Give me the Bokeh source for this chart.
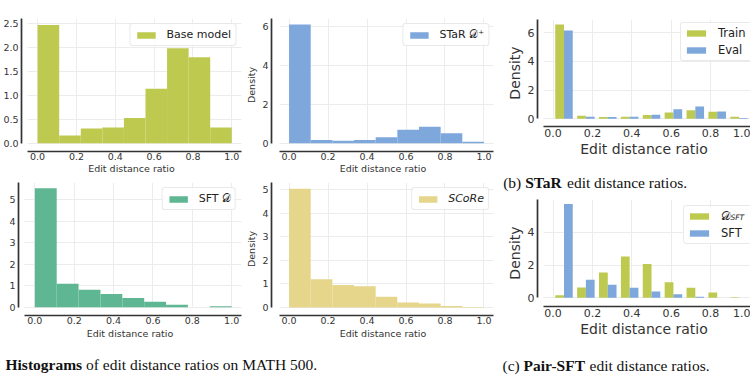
import numpy as np
from bokeh.plotting import figure
from bokeh.layouts import row, column
from bokeh.models import (FixedTicker, NumeralTickFormatter, Range1d, Legend, Grid, Plot,
                          BoxAnnotation)
from bokeh.core.properties import value
from bokeh.embed import file_html
from bokeh.resources import INLINE

# ---------------- data ----------------
n_bins = 9
x_ticks = [0.0, 0.2, 0.4, 0.6, 0.8, 1.0]
x_label = "Edit distance ratio"
y_label = "Density"

base_model = [2.48, 0.16, 0.31, 0.33, 0.53, 1.14, 1.99, 1.80, 0.33]
star_dplus = [6.10, 0.17, 0.12, 0.17, 0.31, 0.69, 0.84, 0.51, 0.07]
sft_d = [5.54, 1.09, 0.81, 0.62, 0.43, 0.25, 0.11, 0.00, 0.04]
score = [5.03, 1.20, 0.95, 0.90, 0.46, 0.21, 0.17, 0.06, 0.02]
star_train = [6.58, 0.21, 0.12, 0.14, 0.26, 0.44, 0.60, 0.49, 0.14]
star_eval = [6.16, 0.14, 0.12, 0.14, 0.28, 0.67, 0.86, 0.51, 0.05]
pair_dsft = [0.16, 0.63, 1.54, 2.52, 2.07, 0.95, 0.61, 0.32, 0.04]
pair_sft = [5.73, 1.10, 0.79, 0.61, 0.39, 0.22, 0.06, 0.00, 0.00]

label_base = "Base model"
label_star = "STaR \U0001D49F\u207A"
label_sft = "SFT \U0001D49F"
label_score = "SCoRe"
label_train = "Train"
label_eval = "Eval"
label_dsft = "\U0001D49F"
label_dsft_sub = "SFT"
label_pair_sft = "SFT"

caption_a = ["Histograms", "of edit distance ratios on MATH 500."]
caption_b = ["(b)", "STaR", "edit distance ratios."]
caption_c = ["(c)", "Pair-SFT", "edit distance ratios."]

# ---------------- style ----------------
FONT = "DejaVu Sans"
SERIF = "Liberation Serif"
OLIVE = "#bdca4f"
BLUE = "#7ea7dc"
TEAL = "#5fb692"
SAND = "#e5d68b"
AXIS = "#333333"
GRID = "#ececec"
HAS_FRAME_ALIGN = "frame_align" in Plot.properties()

edges = np.linspace(0.0, 1.0, n_bins + 1)
lefts = edges[:-1]
rights = edges[1:]
bw = edges[1] - edges[0]


def no_align(p):
    if HAS_FRAME_ALIGN:
        p.frame_align = False


def make_fig(w, h, xr, yr, borders, yticks, yfmt, ylab, tick_px, lab_px,
             xt_stand, xl_stand):
    p = figure(width=w, height=h, x_range=Range1d(*xr), y_range=Range1d(*yr),
               output_backend="svg", toolbar_location=None,
               min_border_left=borders[0], min_border_right=borders[1],
               min_border_top=borders[2], min_border_bottom=borders[3])
    no_align(p)
    p.outline_line_color = None
    p.background_fill_color = "white"
    p.border_fill_color = "white"
    p.xaxis.ticker = FixedTicker(ticks=x_ticks)
    p.xaxis.formatter = NumeralTickFormatter(format="0.0")
    p.yaxis.ticker = FixedTicker(ticks=yticks)
    p.yaxis.formatter = NumeralTickFormatter(format=yfmt)
    p.xaxis.bounds = (-0.05, 1.05)
    p.yaxis.bounds = (0, yr[1])
    p.xaxis.axis_label = x_label
    p.yaxis.axis_label = ylab
    for ax in (p.xaxis[0], p.yaxis[0]):
        ax.axis_line_color = AXIS
        ax.axis_line_width = 1.7
        ax.major_tick_line_color = None
        ax.minor_tick_line_color = None
        ax.major_tick_out = 0
        ax.major_tick_in = 0
        ax.minor_tick_out = 0
        ax.minor_tick_in = 0
        ax.major_label_text_font = FONT
        ax.major_label_text_font_size = tick_px
        ax.major_label_text_color = AXIS
        ax.axis_label_text_font = FONT
        ax.axis_label_text_font_size = lab_px
        ax.axis_label_text_font_style = "normal"
        ax.axis_label_text_color = AXIS
    p.xaxis.major_label_standoff = xt_stand
    p.xaxis.axis_label_standoff = xl_stand
    p.yaxis.major_label_standoff = 3
    p.yaxis.axis_label_standoff = 2
    p.xgrid.grid_line_color = GRID
    p.ygrid.grid_line_color = GRID
    p.xgrid.grid_line_width = 1
    p.ygrid.grid_line_width = 1
    if "cross_bounds" in Grid.properties():
        p.xgrid.cross_bounds = (0, yr[1])
        p.ygrid.cross_bounds = (-0.05, 1.05)
    return p


def style_legend(p, font_px, glyph_w, glyph_h, standoff, location, label_w=20,
                 spacing=4, padding=4):
    leg = p.legend[0]
    leg.location = location
    leg.margin = 5
    leg.padding = padding
    leg.spacing = spacing
    leg.glyph_width = glyph_w
    leg.glyph_height = glyph_h
    leg.label_standoff = standoff
    leg.label_height = 10
    leg.label_width = label_w
    leg.label_text_font = FONT
    leg.label_text_font_size = font_px
    leg.label_text_color = "#222222"
    leg.border_line_color = "#d4d4d4"
    leg.border_line_width = 1
    leg.background_fill_color = "white"
    leg.background_fill_alpha = 0.9
    if "border_radius" in Legend.properties():
        leg.border_radius = 3
    return leg


# ---------- (a) panel 1: Base model ----------
p1 = make_fig(243, 177, (-0.083, 1.05), (-0.174, 2.614), (18, 2, 18, 26),
              [0, 0.5, 1.0, 1.5, 2.0, 2.5], "0.0", None, "9.5px", "9.5px", 1, 0)
p1.quad(left=lefts, right=rights, bottom=0, top=base_model, fill_color=OLIVE,
        line_color=None, legend_label=label_base)
style_legend(p1, "11px", 23, 8, 9, "top_right")

# ---------- (a) panel 2: STaR D+ ----------
p2 = make_fig(251, 177, (-0.090, 1.054), (-0.427, 6.41), (27, 0, 18, 26),
              [0, 2, 4, 6], "0", y_label, "9.5px", "9.5px", 1, 0)
p2.quad(left=lefts, right=rights, bottom=0, top=star_dplus, fill_color=BLUE,
        line_color=None, legend_label=label_star)
style_legend(p2, "11px", 23, 8, 9, "top_right")

# ---------- (a) panel 3: SFT D ----------
p4 = make_fig(243, 168, (-0.083, 1.05), (-0.386, 5.805), (18, 2, 5, 30),
              [0, 1, 2, 3, 4, 5], "0", None, "9.5px", "9.5px", 1, 1)
p4.quad(left=lefts, right=rights, bottom=0, top=sft_d, fill_color=TEAL,
        line_color=None, legend_label=label_sft)
style_legend(p4, "11px", 23, 8, 9, "top_right")

# ---------- (a) panel 4: SCoRe ----------
p5 = make_fig(251, 168, (-0.090, 1.054), (-0.339, 5.30), (27, 0, 5, 30),
              [0, 1, 2, 3, 4, 5], "0", y_label, "9.5px", "9.5px", 1, 1)
p5.quad(left=lefts, right=rights, bottom=0, top=score, fill_color=SAND,
        line_color=None, legend_label=label_score)
leg5 = style_legend(p5, "11px", 23, 8, 9, "top_right")
leg5.label_text_font_style = "italic"

# ---------- (b) STaR train / eval ----------
p3 = make_fig(256, 172, (-0.079, 1.0025), (-0.537, 6.93), (43, 0, 19, 46),
              [0, 2, 4, 6], "0", y_label, "11px", "14px", 2, 1)
p3.quad(left=lefts + 0.1 * bw, right=lefts + 0.5 * bw, bottom=0, top=star_train,
        fill_color=OLIVE, line_color=None, legend_label=label_train)
p3.quad(left=lefts + 0.5 * bw, right=lefts + 0.9 * bw, bottom=0, top=star_eval,
        fill_color=BLUE, line_color=None, legend_label=label_eval)
style_legend(p3, "11.5px", 24, 8, 10, (143, 65), label_w=40, spacing=3, padding=3)

# ---------- (c) Pair-SFT ----------
p6 = make_fig(256, 150, (-0.079, 1.0025), (-0.53, 6.0), (43, 0, 4, 39),
              [0, 2, 4], "0", y_label, "11px", "14px", 2, 1)
# white backing for the legend box, drawn beneath the glyphs (covers the grid only)
p6.add_layout(BoxAnnotation(left=0.66, right=1.0025, top=5.55, bottom=3.25,
                            fill_color="white", fill_alpha=1.0, line_color=None,
                            level="underlay"))
p6.quad(left=lefts + 0.1 * bw, right=lefts + 0.5 * bw, bottom=0, top=pair_dsft,
        fill_color=OLIVE, line_color=None, legend_label=label_dsft)
p6.quad(left=lefts + 0.5 * bw, right=lefts + 0.9 * bw, bottom=0, top=pair_sft,
        fill_color=BLUE, line_color=None, legend_label=label_pair_sft)
# subscript of the calligraphic D (text glyph shows through the transparent legend)
p6.text(x=[0.901], y=[4.88], text=[label_dsft_sub], text_font=value(FONT),
        text_font_size="7.5px", text_font_style="italic", text_color="#222222",
        text_baseline="middle", text_align="left")
leg6 = style_legend(p6, "11.5px", 24, 8, 10, (146, 62), label_w=40, spacing=3, padding=3)
leg6.background_fill_alpha = 0.0


# ---------- captions ----------
def caption_fig(w, h):
    c = figure(width=w, height=h, x_range=Range1d(0, w), y_range=Range1d(0, h),
               x_axis_type=None, y_axis_type=None, output_backend="svg",
               toolbar_location=None, min_border=0)
    no_align(c)
    c.outline_line_color = None
    c.grid.visible = False
    return c


def put(c, x, y, txt, bold=False):
    c.text(x=[x], y=[y], text=[txt], text_font=value(SERIF), text_font_size="15.5px",
           text_font_style="bold" if bold else "normal", text_color="#111111",
           text_baseline="middle", text_align="left")


cap_a = caption_fig(494, 30)
put(cap_a, 5, 11, caption_a[0], bold=True)
put(cap_a, 85.5, 11, caption_a[1])

cap_b = caption_fig(256, 23)
put(cap_b, 8.7, 13, caption_b[0])
put(cap_b, 30.7, 13, caption_b[1], bold=True)
put(cap_b, 72.5, 13, caption_b[2])

cap_c = caption_fig(256, 30)
put(cap_c, 8, 10, caption_c[0])
put(cap_c, 29.1, 10, caption_c[1], bold=True)
put(cap_c, 95, 10, caption_c[2])

left_block = column(row(p1, p2), row(p4, p5), cap_a)
right_block = column(p3, cap_b, p6, cap_c)
page = row(left_block, right_block)

open("out.html", "w").write(file_html(page, INLINE))
